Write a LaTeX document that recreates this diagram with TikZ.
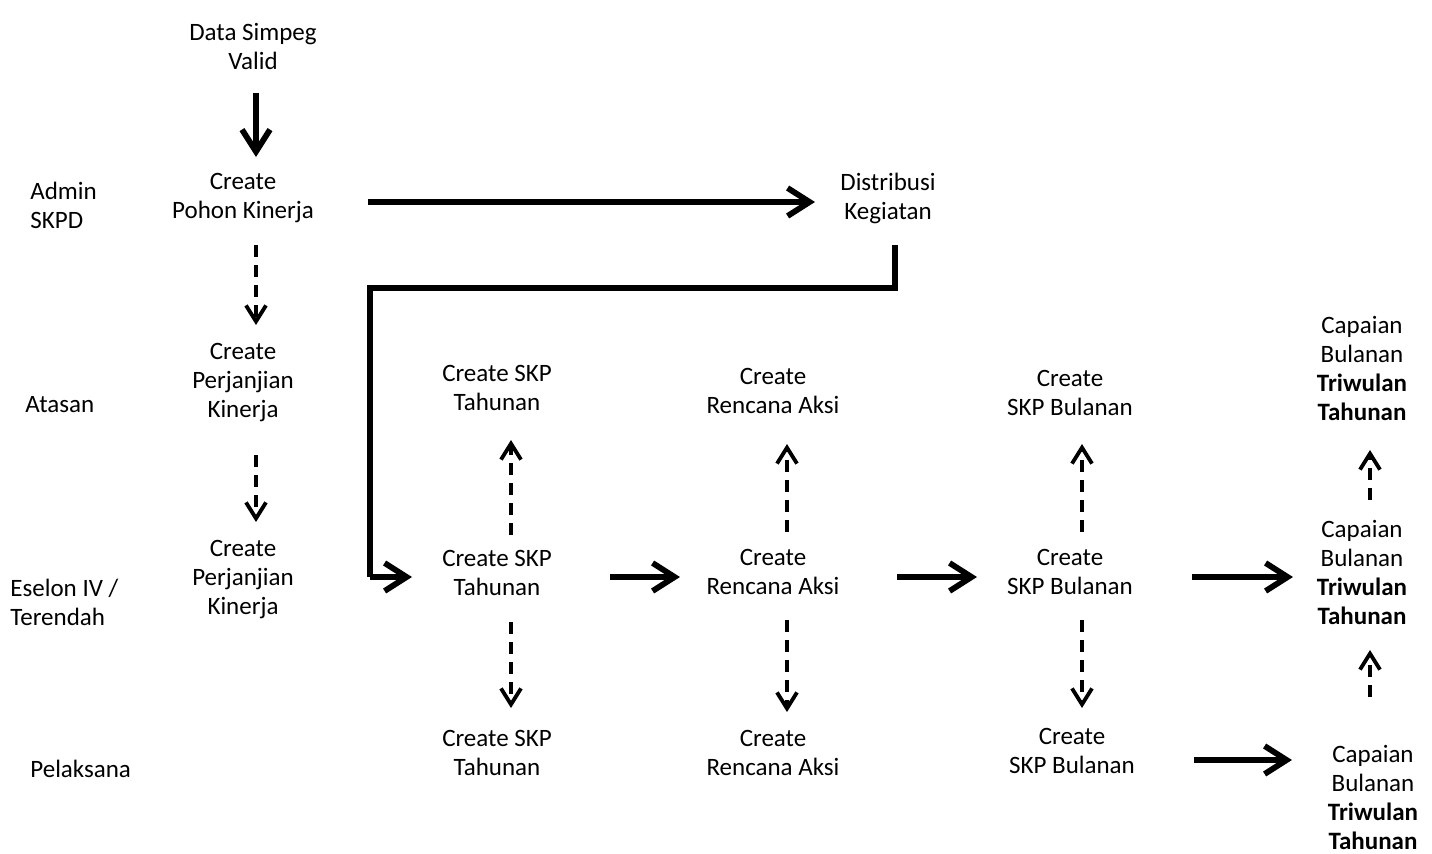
\documentclass[tikz,border=0pt]{standalone}
\usepackage{fontspec}
\setmainfont{Carlito}
\usetikzlibrary{arrows.meta,calc}
\tikzset{
  txt/.style={inner sep=0pt,align=center,font=\fontsize{12.5}{14.5}\selectfont},
  lbl/.style={inner sep=0pt,align=left,anchor=west,font=\fontsize{12.5}{14.5}\selectfont},
  sarr/.style={line width=2.9pt,-{Straight Barb[length=11pt,width=14pt]}},
  darr/.style={line width=1.9pt,dash pattern=on 6pt off 4pt,-{Straight Barb[length=8pt,width=10pt]}},
  sline/.style={line width=2.9pt,miter limit=10}
}
\begin{document}
\begin{tikzpicture}[x=0.5pt,y=-0.5pt]
\useasboundingbox (0,0) rectangle (1432,853);
% nodes
\node[txt] (ds) at (253,46) {Data Simpeg\\Valid};
\node[txt] (pk) at (243,198) {Create\\Pohon Kinerja};
\node[txt] (dk) at (888,198) {Distribusi\\Kegiatan};
\node[txt] (ppa) at (243,383) {Create\\Perjanjian\\Kinerja};
\node[txt] (ppe) at (243,580) {Create\\Perjanjian\\Kinerja};
\node[txt] (sta) at (497,388) {Create SKP\\Tahunan};
\node[txt] (raa) at (773,391) {Create\\Rencana Aksi};
\node[txt] (sba) at (1070,393) {Create\\SKP Bulanan};
\node[txt] (ca) at (1362,368) {Capaian\\Bulanan\\\textbf{Triwulan}\\\textbf{Tahunan}};
\node[txt] (ste) at (497,573) {Create SKP\\Tahunan};
\node[txt] (rae) at (773,572) {Create\\Rencana Aksi};
\node[txt] (sbe) at (1070,572) {Create\\SKP Bulanan};
\node[txt] (ce) at (1362,572) {Capaian\\Bulanan\\\textbf{Triwulan}\\\textbf{Tahunan}};
\node[txt] (stp) at (497,753) {Create SKP\\Tahunan};
\node[txt] (rap) at (773,753) {Create\\Rencana Aksi};
\node[txt] (sbp) at (1072,751) {Create\\SKP Bulanan};
\node[txt] (cp) at (1373,797) {Capaian\\Bulanan\\\textbf{Triwulan}\\\textbf{Tahunan}};
% row labels
\node[lbl] (ladmin) at (30,205) {Admin\\SKPD};
\node[lbl] (latasan) at (25,405) {Atasan};
\node[lbl] (leselon) at (10,602) {Eselon IV /\\Terendah};
\node[lbl] (lpelaksana) at (30,769) {Pelaksana};
% connectors
\draw[sarr] ($(ds)+(3,47)$) -- ($(pk)+(13,-41)$);
\draw[darr] ($(pk)+(13,47)$) -- ($(ppa)+(13,-58)$);
\draw[darr] ($(ppa)+(13,72)$) -- ($(ppe)+(13,-58)$);
\draw[sarr] ($(pk)+(125,4)$) -- ($(dk)+(-73,4)$);
\draw[sline] ($(dk)+(7,47)$) -- ++(0,43) coordinate (c1) -| ($(ste)+(-127,4)$) coordinate (c2);
\draw[sarr] (c2) -- ($(ste)+(-85,4)$);
\draw[darr] ($(ste)+(14,-38)$) -- ($(sta)+(14,52)$);
\draw[darr] ($(ste)+(14,49)$) -- ($(stp)+(14,-45)$);
\draw[darr] ($(rae)+(14,-40)$) -- ($(raa)+(14,53)$);
\draw[darr] ($(rae)+(14,48)$) -- ($(rap)+(14,-41)$);
\draw[darr] ($(sbe)+(12,-40)$) -- ($(sba)+(12,51)$);
\draw[darr] ($(sbe)+(12,48)$) -- ($(sbp)+(10,-43)$);
\draw[sarr] ($(ste)+(113,4)$) -- ($(rae)+(-93,5)$);
\draw[sarr] ($(rae)+(124,5)$) -- ($(sbe)+(-93,5)$);
\draw[sarr] ($(sbe)+(122,5)$) -- ($(ce)+(-69,5)$);
\draw[sarr] ($(sbp)+(122,9)$) -- ($(cp)+(-81,-37)$);
\draw[darr] ($(ce)+(8,-72)$) -- ($(ca)+(8,82)$);
\draw[darr] ($(cp)+(-3,-100)$) -- ($(ce)+(8,78)$);
\end{tikzpicture}
\end{document}
